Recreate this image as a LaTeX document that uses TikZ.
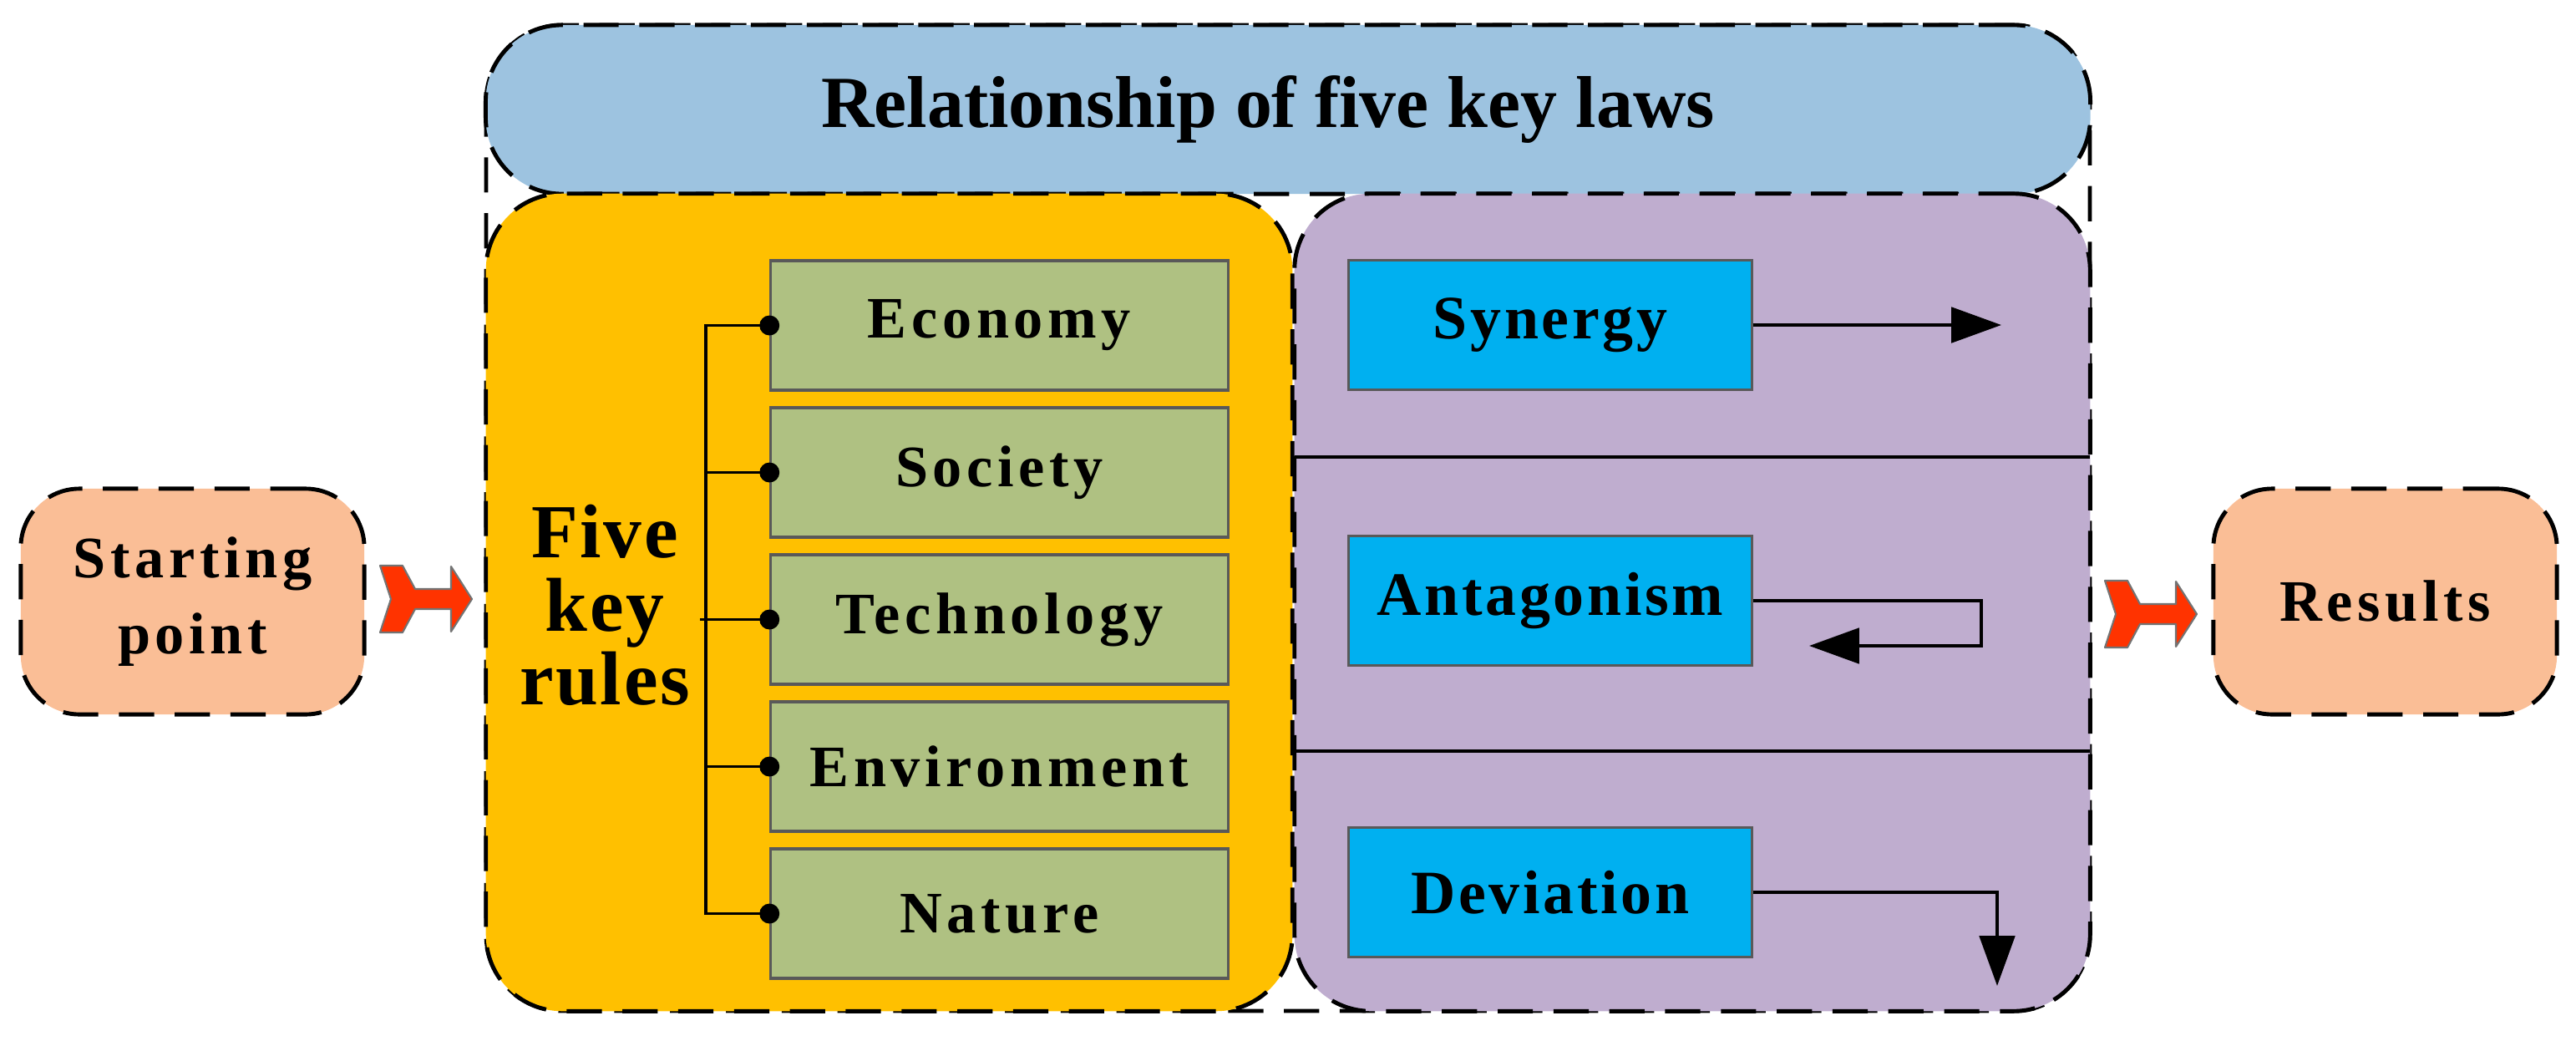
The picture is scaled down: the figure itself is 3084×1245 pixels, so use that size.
\documentclass[tikz,border=0pt]{standalone}
\usepackage{fontspec}
\setmainfont{Liberation Serif}
\newfontfamily\labelfont[LetterSpace=8]{Liberation Serif}
\newfontfamily\lawfont[LetterSpace=5]{Liberation Serif}
\newfontfamily\bigfont[LetterSpace=3]{Liberation Serif}
\usetikzlibrary{arrows.meta,positioning}

\definecolor{titleblue}{RGB}{157,195,224}
\definecolor{ruleyellow}{RGB}{255,192,0}
\definecolor{lawpurple}{RGB}{191,173,207}
\definecolor{rulegreen}{RGB}{175,193,130}
\definecolor{lawcyan}{RGB}{0,176,240}
\definecolor{endsalmon}{RGB}{250,190,150}
\definecolor{arrowred}{RGB}{255,51,0}

\tikzset{
  dashbox/.style={draw=black, line width=1.4pt, dash pattern=on 12pt off 7pt},
  panel/.style={dashbox, rounded corners=26pt, inner sep=0pt},
  labeltext/.style={font=\labelfont\fontsize{20pt}{26pt}\selectfont\bfseries},
  endbox/.style={panel, rounded corners=20pt, fill=endsalmon, minimum width=4.11cm, minimum height=2.7cm, align=center, labeltext},
  rulebox/.style={draw=black!65, line width=0.9pt, fill=rulegreen, minimum width=5.47cm, minimum height=1.55cm, labeltext},
  lawbox/.style={draw=black!65, line width=0.9pt, fill=lawcyan, minimum width=4.82cm, minimum height=1.55cm,
    font=\lawfont\fontsize{21pt}{26pt}\selectfont\bfseries},
  wire/.style={line width=1pt},
  flow/.style={line width=1.2pt, -{Triangle[length=17pt,width=12pt]}},
  bigarrow/.pic={
    \draw[fill=arrowred, draw=black!55, line width=0.6pt, line join=round]
      (0,-40) -- (27,-40) -- (42,-12) -- (85,-12) -- (85,-39) -- (110,0)
      -- (85,39) -- (85,12) -- (42,12) -- (27,40) -- (0,40) -- (13,0) -- cycle;
  }
}

\begin{document}
\begin{tikzpicture}[x=0.01cm, y=-0.01cm]
\useasboundingbox (0,0) rectangle (3084,1245);

% outer frame
\draw[dashbox, rounded corners=26pt] (582,30) rectangle (2502,1210);

\node[panel, fill=titleblue, minimum width=19.2cm, minimum height=2.02cm] (title) at (1542,131) {};
\node[font=\fontsize{25pt}{30pt}\selectfont\bfseries] (titlelabel) at ([xshift=-0.24cm]title.center) {Relationship of five key laws};
\node[panel, fill=ruleyellow, minimum width=9.65cm, minimum height=9.78cm] (rulepanel) at (1064.5,721) {};
\node[panel, fill=lawpurple, minimum width=9.52cm, minimum height=9.78cm] (lawpanel) at (2026,721) {};

% start and end
\node[endbox] (start) at (230.5,720) {Starting\\point};
\node[endbox] (results) at (2855.5,720) {Results};
\pic at (455,717) {bigarrow};
\pic at (2520,735) {bigarrow};

% five key rules
\foreach \name/\label [count=\i from 0] in {eco/Economy, soc/Society, tec/Technology, env/Environment, nat/Nature}
  \node[rulebox] (\name) at (1196.5,{389.5+176*\i}) {\label};

\node[font=\bigfont\fontsize{26pt}{25pt}\selectfont\bfseries, align=center] (fkr) at (724,724) {Five\\key\\rules};

\coordinate (spine) at (845,0);
\draw[wire] (eco.west) -- (eco.west -| spine) |- (nat.west);
\draw[wire] (soc.west) -- (soc.west -| spine);
\draw[wire] (env.west) -- (env.west -| spine);
\draw[wire] (fkr.east |- tec.west) -- (tec.west);
\foreach \name in {eco,soc,tec,env,nat}
  \fill (\name.west) circle (3.4pt);

% relationships
\draw[wire] (1550,547) -- (2502,547);
\draw[wire] (1550,899) -- (2502,899);

\node[lawbox] (syn) at (1856,389) {Synergy};
\node[lawbox] (ant) at (1856,719) {Antagonism};
\node[lawbox] (dev) at (1856,1068) {Deviation};

\coordinate (synend) at (2396,389);
\coordinate (antend) at (2166,773);
\coordinate (devend) at (2391,1180);
\draw[flow] (syn.east) -- (synend);
\draw[flow] (ant.east) -- (2372,719) |- (antend);
\draw[flow] (dev.east) -| (devend);
\end{tikzpicture}
\end{document}
